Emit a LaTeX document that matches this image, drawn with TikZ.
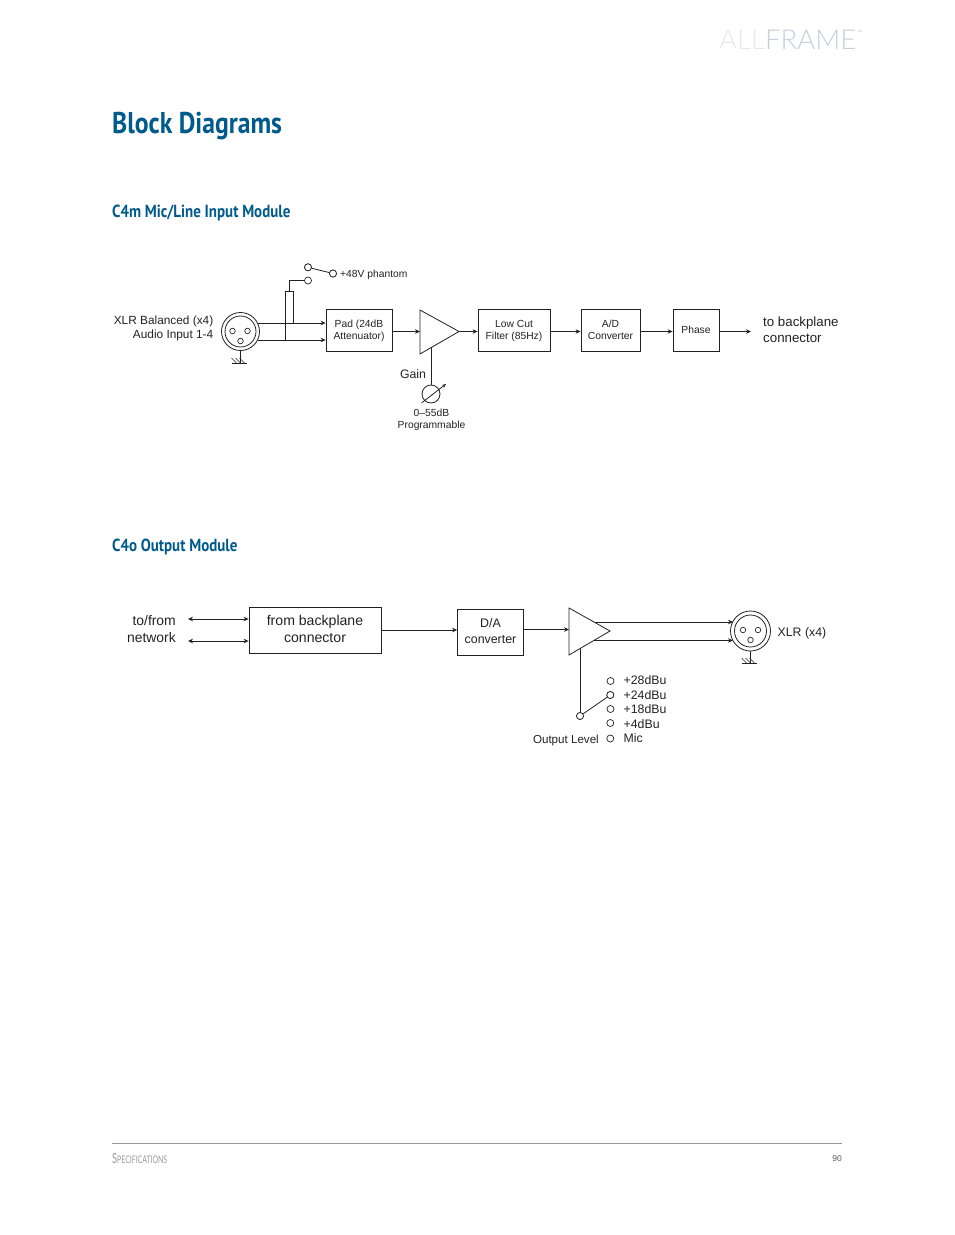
\documentclass[tikz,border=0pt]{standalone}
\usepackage{fontspec}
\setmainfont{Liberation Sans}
\newfontfamily\headfont[FakeStretch=0.855]{PT Sans}
\newfontfamily\footfont[FakeStretch=0.66]{Lato}
\newfontfamily\logofont{Lato Light}
\usetikzlibrary{arrows.meta}
\definecolor{headblue}{HTML}{005A8C}
\definecolor{inkc}{HTML}{222222}
\newcommand{\vp}{\vphantom{(}}
\tikzset{
  wire/.style={draw=inkc,line width=0.8pt},
  arr/.style={wire,-{Stealth[length=5pt,width=4.5pt]}},
  darr/.style={wire,{Stealth[length=5pt,width=4.5pt]}-{Stealth[length=5pt,width=4.5pt]}},
  blockbox/.style={draw=inkc,line width=0.8pt,fill=white,inner sep=0pt,align=center,text=inkc,font=\fontsize{10.3}{12}\selectfont},
  bigbox/.style={blockbox,font=\fontsize{14.1}{17}\selectfont},
  term/.style={circle,draw=inkc,line width=0.7pt,fill=white,minimum size=7pt,inner sep=0pt},
  pin/.style={circle,draw=inkc,line width=0.7pt,minimum size=5.5pt,inner sep=0pt},
  ring/.style={circle,draw=inkc,line width=0.8pt,inner sep=0pt},
  lab/.style={text=inkc,inner sep=0pt,align=center,font=\fontsize{10.3}{12}\selectfont},
  labm/.style={text=inkc,inner sep=0pt,font=\fontsize{12.3}{14.5}\selectfont},
  labb/.style={text=inkc,inner sep=0pt,font=\fontsize{13.4}{15.5}\selectfont},
  amp/.style={draw=inkc,line width=0.8pt,fill=white,line join=miter},
  title/.style={text=headblue,inner sep=0pt,anchor=base west,font=\headfont\bfseries\fontsize{30}{34}\selectfont},
  subtitle/.style={text=headblue,inner sep=0pt,anchor=base west,font=\headfont\bfseries\fontsize{17.5}{20}\selectfont},
  hatch/.style={wire,line width=0.6pt},
}
\begin{document}
\begin{tikzpicture}[x=1pt,y=-1pt]
\useasboundingbox (0,0) rectangle (954,1235);
% header
\node[anchor=base west,inner sep=0pt,font=\logofont\fontsize{27.5}{32}\selectfont] (logo) at (719,49.5) {\textcolor[HTML]{E8E8E8}{ALL}\textcolor[HTML]{C5CEDD}{FRAME}};
\node[anchor=base west,inner sep=0pt,text=black!30,font=\fontsize{3}{4}\selectfont] (tm) at (857.5,32) {TM};
\node[title] (t1) at (112,133) {Block Diagrams};
\node[subtitle] (t2) at (112,217.5) {C4m Mic/Line Input Module};
\node[subtitle] (t3) at (112,551.5) {C4o Output Module};
% --- upper diagram
\node[ring,minimum size=38pt] (xlrA) at (240.5,331.5) {};
\node[ring,minimum size=31pt] (xlrAi) at (240.5,331.5) {};
\node[pin] (pa1) at (232.5,331) {};
\node[pin] (pa2) at (247.5,331) {};
\node[pin] (pa3) at (240.5,341) {};
\coordinate (gA) at (240.5,363);
\draw[wire] (xlrA.south) -- (gA);
\draw[wire] ([xshift=-8.5pt]gA) -- ([xshift=6pt]gA);
\foreach \d/\e in {-4/-9,0/-5,4/-1}{\draw[hatch] ([xshift=\d pt]gA) -- ([xshift=\e pt,yshift=5pt]gA);}
\node[blockbox,minimum width=66pt,minimum height=42pt] (pad) at (359,330.5) {Pad (24dB\\Attenuator)};
\node[blockbox,minimum width=72pt,minimum height=42pt] (lcf) at (514,330.5) {Low Cut\\Filter (85Hz)};
\node[blockbox,minimum width=59pt,minimum height=42pt] (adc) at (610.5,330.5) {\vp A/D\\\vp Converter};
\node[blockbox,minimum width=46pt,minimum height=42pt] (phase) at (696,330.5) {\vp Phase};
\coordinate (outA) at (751,331);
\coordinate (ha) at (257.5,323);
\coordinate (hb) at (257.5,340);
\draw[arr] (ha) -- (ha -| pad.west);
\draw[arr] (hb) -- (hb -| pad.west);
\coordinate (phL) at (285,291);
\coordinate (phR) at (293,291);
\draw[wire] (hb -| phL) -- (phL) -- (phR) -- (ha -| phR);
\node[term] (sw1) at (308,267.3) {};
\node[term] (sw2) at (308,280.5) {};
\node[term] (sw3) at (333,273.5) {};
\draw[wire] (289,291) -- (289,280.5) -- (sw2.west);
\draw[wire] (sw1) -- (sw3);
\node[term] at (sw1) {};\node[term] at (sw3) {};
\coordinate (ampAa) at (420,310);
\coordinate (ampAb) at (420,354);
\coordinate (ampAc) at (459,331.5);
\draw[arr] (pad.east |- ampAc) -- (ampAa |- ampAc);
\draw[arr] (ampAc) -- (ampAc -| lcf.west);
\draw[arr] (lcf.east |- ampAc) -- (ampAc -| adc.west);
\draw[arr] (adc.east |- ampAc) -- (ampAc -| phase.west);
\draw[arr] (phase.east |- ampAc) -- (outA |- ampAc);
\node[ring,minimum size=18pt] (gain) at (431,394) {};
\draw[wire] (431,347) -- (gain.north);
\draw[amp] (ampAa) -- (ampAb) -- (ampAc) -- cycle;
\draw[wire,-{Stealth[length=4pt,width=3.5pt]}] (421.5,403) -- (446,384);
\node[lab,anchor=base west] (phlab) at (340,277) {+48V phantom};
\node[labm,font=\fontsize{11.85}{14.5}\selectfont,anchor=north east,align=right] (inlab) at (213.5,315.5) {XLR Balanced (x4)\\Audio Input 1-4};
\node[labm,anchor=base] (gainlab) at (413,378) {Gain};
\node[lab,anchor=north] (proglab) at (431.5,408.5) {0--55dB\\Programmable};
\node[labb,font=\fontsize{13.3}{15.5}\selectfont,anchor=north west,align=left] (bplab) at (763,317) {to backplane\\connector};
% --- lower diagram
\node[bigbox,minimum width=132pt,minimum height=46pt] (frombp) at (315,630.5) {\vp from backplane\\\vp connector};
\node[blockbox,font=\fontsize{12.4}{15.5}\selectfont,minimum width=66pt,minimum height=46pt] (dac) at (490.5,632.5) {D/A\\\vp converter};
\coordinate (na) at (188,619);
\coordinate (nb) at (188,641);
\draw[darr] (na) -- (na -| frombp.west);
\draw[darr] (nb) -- (nb -| frombp.west);
\node[labb,font=\fontsize{13.9}{17}\selectfont,anchor=north east,align=right] (netlab) at (176,615) {to/from\\network};
\coordinate (ampBa) at (569,608);
\coordinate (ampBb) at (569,655);
\coordinate (ampBc) at (610,631);
\draw[arr] (frombp.east |- 0,630) -- (dac.west |- 0,630);
\draw[arr] (dac.east |- 0,629.5) -- (ampBa |- 0,629.5);
\node[ring,minimum size=40pt] (xlrB) at (750.5,631) {};
\node[ring,minimum size=32pt] (xlrBi) at (750.5,631) {};
\node[pin] (pb1) at (743,630) {};
\node[pin] (pb2) at (758,630) {};
\node[pin] (pb3) at (750.5,640) {};
\coordinate (oa) at (594,622);
\coordinate (ob) at (594,640.5);
\draw[arr] (oa) -- (733,622);
\draw[arr] (ob) -- (733,640.5);
\draw[amp] (ampBa) -- (ampBb) -- (ampBc) -- cycle;
\coordinate (gB) at (750.5,663);
\draw[wire] (xlrB.south) -- (gB);
\draw[wire] ([xshift=-8.5pt]gB) -- ([xshift=6pt]gB);
\foreach \d/\e in {-4/-9,0/-5,4/-1}{\draw[hatch] ([xshift=\d pt]gB) -- ([xshift=\e pt,yshift=5pt]gB);}
\node[labm,anchor=base west] (xlrlab) at (777.5,636) {XLR (x4)};
\node[term] (lev0) at (580,716) {};
\node[term] (lev1) at (610.5,681) {};
\node[term] (lev2) at (610.3,695) {};
\node[term] (lev3) at (610.5,709) {};
\node[term] (lev4) at (610.3,723) {};
\node[term] (lev5) at (610.3,738.5) {};
\draw[wire] (580,648) -- (lev0.north);
\draw[wire] (lev0) -- (lev2);
\node[term] at (lev0) {};\node[term] at (lev2) {};
\node[labm,anchor=base west] (l1) at (623.5,684) {+28dBu};
\node[labm,anchor=base west] (l2) at (623.5,699) {+24dBu};
\node[labm,anchor=base west] (l3) at (623.5,713) {+18dBu};
\node[labm,anchor=base west] (l4) at (623.5,728) {+4dBu};
\node[labm,anchor=base west] (l5) at (623.5,742) {Mic};
\node[labm,font=\fontsize{11.6}{14}\selectfont,anchor=base east] (ollab) at (599,743) {Output Level};
% footer
\coordinate (fa) at (112,1143.5);
\coordinate (fb) at (842,1143.5);
\draw[draw=black!40,line width=0.8pt] (fa) -- (fb);
\node[anchor=base west,inner sep=0pt,text=black!40,font=\footfont] (spec) at (112,1163) {\fontsize{14}{16}\selectfont S\fontsize{10.5}{16}\selectfont PECIFICATIONS};
\node[anchor=base east,inner sep=0pt,text=black!65,font=\fontsize{8.5}{10}\selectfont] (pg) at (842,1161) {90};
\end{tikzpicture}
\end{document}
